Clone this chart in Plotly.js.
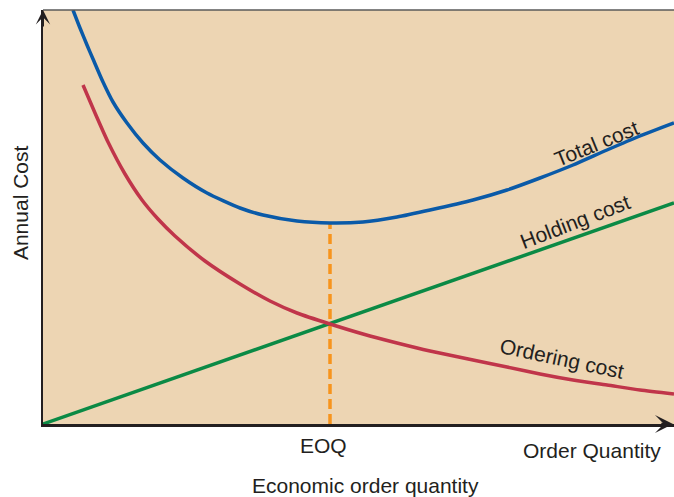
<!DOCTYPE html>
<html>
<head>
<meta charset="utf-8">
<script src="https://cdn.plot.ly/plotly-3.0.1.min.js"></script>
<style>
  html, body { margin: 0; padding: 0; background: #fff; }
  #chart { width: 674px; height: 497px; }
</style>
</head>
<body>
<div id="chart"></div>
<script>
// values (arbitrary units: order quantity, annual cost)
var totalQ    = [30, 37, 44, 50, 60, 70, 84, 100, 117, 140, 164, 197, 220, 254, 287, 320, 354, 387, 430, 464, 497, 530, 564, 597, 631];
var totalCost = [414, 396, 379, 365, 342, 322, 301, 281, 264, 246, 231, 216, 209, 203, 201, 202, 207, 214, 224, 234, 246, 259, 274, 288, 301];

var orderQ    = [40, 52, 65, 82, 99, 115, 132, 162, 197, 227, 254, 287, 320, 354, 387, 430, 464, 497, 530, 564, 597, 631];
var orderCost = [339, 311, 282, 250, 224, 205, 188, 163, 140, 123, 111, 100, 90, 81, 73, 64, 57, 50, 44, 39, 34, 30];

var holdQ    = [0, 631];
var holdCost = [0, 221];

var eoq = 287;
var eoqCost = 201;

var ink = '#231f20';
var font = 'Liberation Sans, Arial, Helvetica, sans-serif';

var traces = [
    {
        x: [eoq, eoq],
        y: [0, eoqCost],
        mode: 'lines',
        line: { color: '#f7941d', width: 3.5, dash: '10px,5px' },
        hoverinfo: 'skip'
    },
    {
        x: holdQ,
        y: holdCost,
        mode: 'lines',
        name: 'Holding cost',
        line: { color: '#0b8a45', width: 3.5 }
    },
    {
        x: orderQ,
        y: orderCost,
        mode: 'lines',
        name: 'Ordering cost',
        line: { color: '#c0354a', width: 3.5, shape: 'spline', smoothing: 0.6 }
    },
    {
        x: totalQ,
        y: totalCost,
        mode: 'lines',
        name: 'Total cost',
        line: { color: '#0a5aa8', width: 3.5, shape: 'spline', smoothing: 0.6 }
    }
];

function label(text, x, y, angle) {
    return {
        text: text, x: x, y: y, xref: 'x', yref: 'y',
        xanchor: 'center', yanchor: 'middle',
        showarrow: false, textangle: angle,
        font: { family: font, size: 21, color: ink }
    };
}

function paperLabel(text, x, y, angle) {
    return {
        text: text, x: x, y: y, xref: 'paper', yref: 'paper',
        xanchor: 'center', yanchor: 'middle',
        showarrow: false, textangle: angle || 0,
        font: { family: font, size: 21, color: ink }
    };
}

var layout = {
    width: 674,
    height: 497,
    margin: { l: 43, r: 0, t: 10, b: 73 },
    paper_bgcolor: '#ffffff',
    plot_bgcolor: '#edd5b3',
    showlegend: false,
    xaxis: {
        range: [0, 631],
        showgrid: false, zeroline: false, showticklabels: false,
        showline: true, linecolor: ink, linewidth: 2.5,
        fixedrange: true
    },
    yaxis: {
        range: [0, 414],
        showgrid: false, zeroline: false, showticklabels: false,
        showline: true, linecolor: ink, linewidth: 2,
        fixedrange: true
    },
    shapes: [
        {
            type: 'line', xref: 'paper', yref: 'paper',
            x0: 0, x1: 1, y0: 1, y1: 1,
            line: { color: '#5a5a5a', width: 1.5 }
        }
    ],
    annotations: [
        label('Total cost', 553, 281, -22),
        label('Holding cost', 532, 203, -21),
        label('Ordering cost', 519, 66, 12),
        {
            text: 'EOQ', x: 280.5, y: -0.051, xref: 'x', yref: 'paper',
            xanchor: 'center', yanchor: 'middle',
            showarrow: false, font: { family: font, size: 21, color: ink }
        },
        paperLabel('Order Quantity', 0.870, -0.065),
        paperLabel('Economic order quantity', 0.511, -0.1475),
        paperLabel('Annual Cost', -0.0365, 0.536, -90),
        // axis arrowheads
        {
            x: 0, y: 1, xref: 'paper', yref: 'paper', ax: 0, ay: 18,
            text: '', showarrow: true, arrowhead: 3, arrowsize: 1.2,
            arrowwidth: 2, arrowcolor: ink
        },
        {
            x: 1.006, y: 0, xref: 'paper', yref: 'paper', ax: -18, ay: 0,
            text: '', showarrow: true, arrowhead: 3, arrowsize: 1.2,
            arrowwidth: 2.5, arrowcolor: ink
        }
    ]
};

Plotly.newPlot('chart', traces, layout, { displayModeBar: false, staticPlot: true });
</script>
</body>
</html>
